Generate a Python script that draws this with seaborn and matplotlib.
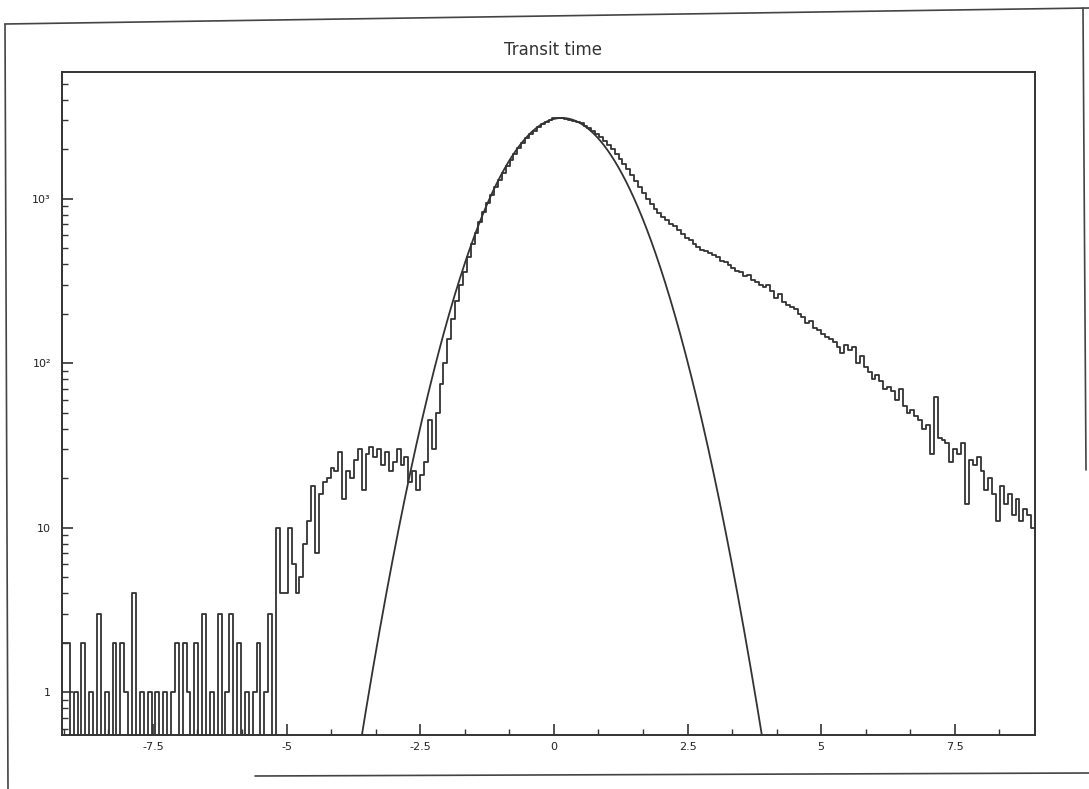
import numpy as np
import pandas as pd
import matplotlib
matplotlib.use("Agg")
import matplotlib.pyplot as plt
import seaborn as sns
from matplotlib.ticker import FixedLocator, FixedFormatter, AutoMinorLocator, LogLocator, NullFormatter
from matplotlib.lines import Line2D

# ---------------- data ----------------
title = "Transit time"
x_min, x_max = -9.2, 9.0
n_bins = 250

counts_left = [  # t from -9.2 to about -5.2 (sparse tail)
    2, 2, 0, 1, 0, 2, 0, 1, 0, 3,
    0, 1, 0, 2, 0, 2, 1, 0, 4, 0,
    1, 0, 1, 0, 1, 0, 1, 0, 1, 2,
    0, 2, 1, 0, 2, 0, 3, 0, 1, 0,
    3, 0, 1, 3, 0, 2, 0, 1, 0, 1,
    2, 0, 1, 3, 0,
]
counts_shoulder = [  # about -5.2 to -2.2
    10, 4, 4, 10, 6, 4, 5, 8, 11, 18,
    7, 16, 19, 20, 23, 22, 29, 15, 22, 20,
    26, 30, 17, 28, 31, 27, 30, 24, 29, 22,
    25, 30, 24, 27, 19, 22, 17, 21, 25, 45,
    30,
]
counts_core = [  # about -2.2 to 2.4
    50, 75, 100, 140, 185, 240, 300, 360, 440, 530,
    620, 720, 830, 940, 1060, 1180, 1300, 1440, 1580, 1730,
    1870, 2030, 2180, 2330, 2460, 2600, 2740, 2850, 2950, 3020,
    3080, 3120, 3080, 3060, 3020, 2990, 2930, 2870, 2790, 2700,
    2590, 2470, 2360, 2240, 2120, 2000, 1870, 1750, 1630, 1510,
    1390, 1280, 1180, 1090, 1000, 930, 870, 820, 770, 740,
    700, 680, 650, 610,
]
counts_tail = [  # about 2.4 to 9.0
    580, 560, 530, 510, 490, 480, 470, 455, 440, 420,
    410, 395, 380, 365, 360, 340, 345, 320, 310, 300,
    290, 300, 275, 250, 265, 235, 225, 220, 215, 200,
    190, 175, 180, 165, 160, 150, 145, 140, 135, 125,
    115, 130, 120, 125, 100, 110, 95, 88, 80, 85,
    78, 70, 72, 68, 60, 70, 55, 50, 52, 48,
    45, 40, 42, 28, 62, 35, 34, 33, 25, 30,
    28, 33, 14, 26, 24, 27, 22, 17, 20, 16,
    11, 18, 14, 16, 12, 15, 11, 13, 12, 10,
]
counts = counts_left + counts_shoulder + counts_core + counts_tail

# Gaussian fit drawn over the histogram
fit_amp, fit_mean, fit_sigma = 3100.0, 0.15, 0.90

x_ticks = [-7.5, -5, -2.5, 0, 2.5, 5, 7.5]
x_tick_labels = ["-7.5", "-5", "-2.5", "0", "2.5", "5", "7.5"]
y_ticks = [1, 10, 100, 1000]
y_tick_labels = ["1", "10", "10\u00b2", "10\u00b3"]
y_min, y_max = 0.55, 5900

# ---------------- plot ----------------
sns.set_theme(style="white")
plt.rcParams["font.family"] = ["DejaVu Sans"]
line_color = "#333333"

W, H = 1089, 789
fig = plt.figure(figsize=(W / 100, H / 100), dpi=100)
ax = fig.add_axes([62 / W, 1 - 735 / H, (1035 - 62) / W, (735 - 72) / H])

edges = np.linspace(x_min, x_max, n_bins + 1)
centers = 0.5 * (edges[:-1] + edges[1:])
df = pd.DataFrame({"t": centers, "n": np.array(counts, dtype=float)})
sns.histplot(data=df, x="t", weights="n", bins=n_bins, binrange=(x_min, x_max),
             element="step", fill=False, color=line_color, linewidth=1.3, ax=ax)

t = np.linspace(x_min, x_max, 1500)
g = fit_amp * np.exp(-0.5 * ((t - fit_mean) / fit_sigma) ** 2)
ax.plot(t, g, color=line_color, linewidth=1.3)

ax.set_yscale("log")
ax.set_xlim(x_min, x_max)
ax.set_ylim(y_min, y_max)
ax.set_xlabel("")
ax.set_ylabel("")

ax.xaxis.set_major_locator(FixedLocator(x_ticks))
ax.xaxis.set_major_formatter(FixedFormatter(x_tick_labels))
ax.xaxis.set_minor_locator(AutoMinorLocator(3))
ax.yaxis.set_major_locator(FixedLocator(y_ticks))
ax.yaxis.set_major_formatter(FixedFormatter(y_tick_labels))
ax.yaxis.set_minor_locator(LogLocator(base=10, subs=np.arange(2, 10)))
ax.yaxis.set_minor_formatter(NullFormatter())

ax.tick_params(axis="both", which="major", direction="in", length=8, width=1.2,
               color=line_color, labelsize=8, labelcolor="#222222")
ax.tick_params(axis="both", which="minor", direction="in", length=4, width=1.0,
               color=line_color)
ax.tick_params(axis="x", which="both", top=False, bottom=True, pad=5)
ax.tick_params(axis="y", which="both", left=True, right=False, pad=8)

for s in ax.spines.values():
    s.set_color(line_color)
    s.set_linewidth(1.4)
    s.set_visible(True)

fig.text(0.508, 1 - 50 / H, title, ha="center", va="center", fontsize=12,
         color="#333333")

# outer page frame
def fline(x0, y0, x1, y1, lw=1.2):
    fig.add_artist(Line2D([x0 / W, x1 / W], [1 - y0 / H, 1 - y1 / H],
                          color="#444444", linewidth=lw))

fline(5, 24, 1089, 8)
fline(5, 24, 8, 789)
fline(1083, 8, 1086, 470)
fline(255, 776, 1089, 773)

fig.savefig("out.png", dpi=100, facecolor="white")
